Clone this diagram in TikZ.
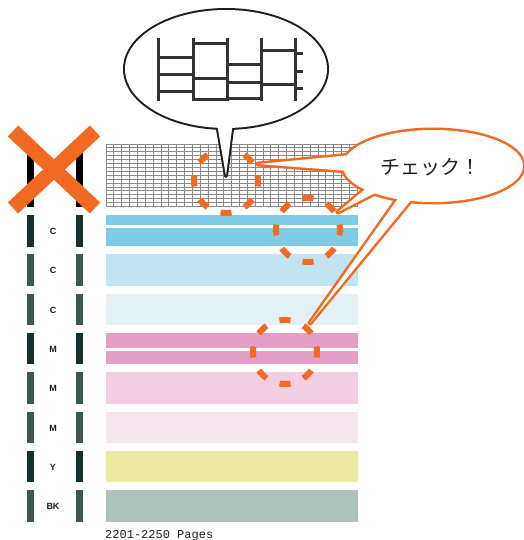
\documentclass[tikz,border=0pt]{standalone}
\usepackage{fontspec}
\usetikzlibrary{shapes.geometric}
\newfontfamily\jpfont{Noto Sans CJK JP}
\newfontfamily\inkfont{Liberation Sans}
\newfontfamily\pagefont{Liberation Mono}

\definecolor{checkorange}{HTML}{F26A21}
\definecolor{inkblack}{HTML}{1E1E1E}
\definecolor{nozzlegray}{HTML}{333333}
\definecolor{gridgray}{HTML}{8A8A8A}
\definecolor{bardark}{HTML}{143330}
\definecolor{barmid}{HTML}{3C5853}
\definecolor{cyanfull}{HTML}{80CCE4}
\definecolor{cyanmid}{HTML}{C2E4F0}
\definecolor{cyanlow}{HTML}{E4F1F4}
\definecolor{magfull}{HTML}{E39FC5}
\definecolor{magmid}{HTML}{F2D0E2}
\definecolor{maglow}{HTML}{F5E6EE}
\definecolor{yellowfull}{HTML}{ECEAA2}
\definecolor{blackfull}{HTML}{AFC2BC}

\tikzset{
  inklabel/.style={font=\inkfont\bfseries\fontsize{9}{10}\selectfont, text=inkblack, inner sep=0pt},
  gridline/.style={draw=gridgray, line width=0.8pt},
  ring/.style={circle, draw=checkorange, line width=6pt, minimum size=64pt, inner sep=0pt, outer sep=0pt,
    dash pattern=on 11pt off 14.13pt, dash phase=5.5pt},
  loupe/.style={ellipse, draw=inkblack, line width=4pt, minimum width=202pt, minimum height=118pt, inner sep=0pt, outer sep=0pt},
  callout/.style={ellipse, draw=checkorange, line width=5pt, minimum width=180pt, minimum height=72pt, inner sep=0pt, outer sep=0pt},
  nozzle/.style={draw=nozzlegray, line width=3pt},
}

\begin{document}
\begin{tikzpicture}[x=1pt, y=-1pt]
    \useasboundingbox (0,0) rectangle (523,540);

    % nozzle check grid
    \foreach \i in {0,...,32} \draw[gridline] (106+\i*7.85,144) -- (106+\i*7.85,207);
    \foreach \j in {0,...,16} \draw[gridline] (106,144+\j*3.9) -- (357,144+\j*3.9);

    % colour bands
    \fill[cyanfull] (106,215) rectangle (358,225);
    \fill[cyanfull] (106,228) rectangle (358,246);
    \fill[cyanmid] (106,254) rectangle (358,286);
    \fill[cyanlow] (106,294) rectangle (358,325);
    \fill[magfull] (106,333) rectangle (358,348);
    \fill[magfull] (106,351) rectangle (358,364);
    \fill[magmid] (106,372) rectangle (358,404);
    \fill[maglow] (106,412) rectangle (358,443);
    \fill[yellowfull] (106,451) rectangle (358,482);
    \fill[blackfull] (106,490) rectangle (358,522);

    % left bars
    \fill[black] (27,148) rectangle (34,207);
    \fill[black] (76,148) rectangle (83,207);
    \fill[bardark] (27,215) rectangle (34,247);
    \fill[bardark] (76,215) rectangle (83,247);
    \fill[barmid] (27,254) rectangle (34,286);
    \fill[barmid] (76,254) rectangle (83,286);
    \fill[barmid] (27,294) rectangle (34,325);
    \fill[barmid] (76,294) rectangle (83,325);
    \fill[bardark] (27,333) rectangle (34,364);
    \fill[bardark] (76,333) rectangle (83,364);
    \fill[barmid] (27,372) rectangle (34,404);
    \fill[barmid] (76,372) rectangle (83,404);
    \fill[barmid] (27,412) rectangle (34,443);
    \fill[barmid] (76,412) rectangle (83,443);
    \fill[bardark] (27,451) rectangle (34,482);
    \fill[bardark] (76,451) rectangle (83,482);
    \fill[barmid] (27,490) rectangle (34,522);
    \fill[barmid] (76,490) rectangle (83,522);

    \node[inklabel] (lc1) at (53,231) {C};
    \node[inklabel] (lc2) at (53,270) {C};
    \node[inklabel] (lc3) at (53,310) {C};
    \node[inklabel] (lm1) at (53,349) {M};
    \node[inklabel] (lm2) at (53,388) {M};
    \node[inklabel] (lm3) at (53,428) {M};
    \node[inklabel] (ly) at (53,467) {Y};
    \node[inklabel] (lbk) at (53,506) {BK};

    \node[font=\pagefont\fontsize{12}{14}\selectfont, text=inkblack, inner sep=0pt, anchor=base west] (pages) at (105,538.5) {2201-2250 Pages};

    % cross
    \draw[checkorange, line width=15pt] (13,131) -- (95,208);
    \draw[checkorange, line width=15pt] (95,131) -- (13,208);

    % dashed rings
    \node[ring] (ring1) at (226,181) {};
    \node[ring] (ring2) at (308,230) {};
    \node[ring] (ring3) at (285,352) {};

    % zoom bubble
    \node[loupe] (loupe) at (226,69) {};
    \coordinate (looktip) at (226,176);
    \draw[inkblack, line width=4pt, line join=round] (loupe.262) -- (looktip) -- (loupe.276);
    \fill[white] (loupe.center) ellipse [x radius=101pt, y radius=59pt];
    \fill[white] (loupe.262) -- (looktip) -- (loupe.276) -- (loupe.center) -- cycle;

    \draw[nozzle] (158,38) -- (158,101);
    \draw[nozzle] (193,38) -- (193,101);
    \draw[nozzle] (227,38) -- (227,101);
    \draw[nozzle] (261,38) -- (261,101);
    \draw[nozzle] (295,38) -- (295,101);
    \draw[nozzle] (158,58) -- (193,58);
    \draw[nozzle] (158,75) -- (193,75);
    \draw[nozzle] (158,92) -- (193,92);
    \draw[nozzle] (193,44) -- (227,44);
    \draw[nozzle] (193,79) -- (227,79);
    \draw[nozzle] (193,100) -- (227,100);
    \draw[nozzle] (227,65) -- (261,65);
    \draw[nozzle] (227,83) -- (261,83);
    \draw[nozzle] (227,99) -- (261,99);
    \draw[nozzle] (261,51) -- (295,51);
    \draw[nozzle] (261,85) -- (295,85);
    \draw[nozzle] (295,54) -- (303,54);
    \draw[nozzle] (295,72) -- (303,72);
    \draw[nozzle] (295,89) -- (303,89);

    % check callout
    \node[callout] (check) at (433,166) {};
    \coordinate (tip1) at (258,164);
    \coordinate (tip2) at (338,212);
    \coordinate (tip3) at (310,323);
    \draw[checkorange, line width=5pt, line join=round] (check.173) -- (tip1) -- (check.183);
    \draw[checkorange, line width=5pt, line join=round] (check.199) -- (tip2) -- (check.205);
    \draw[checkorange, line width=5pt, line join=round] (check.223) -- (tip3) -- (check.237);
    \fill[white] (check.center) ellipse [x radius=90pt, y radius=36pt];
    \fill[white] (check.173) -- (tip1) -- (check.183) -- (check.center) -- cycle;
    \fill[white] (check.199) -- (tip2) -- (check.205) -- (check.center) -- cycle;
    \fill[white] (check.223) -- (tip3) -- (check.237) -- (check.center) -- cycle;
    \node[font=\jpfont\fontsize{20}{24}\selectfont, text=inkblack] (checktext) at (430,167) {チェック！};

\end{tikzpicture}
\end{document}
